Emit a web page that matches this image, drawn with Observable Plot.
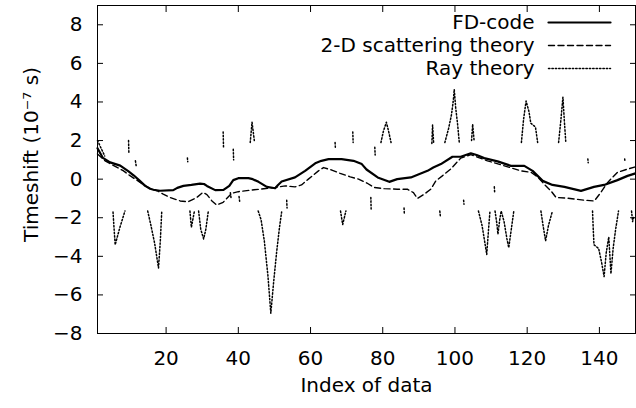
<!DOCTYPE html>
<html><head><meta charset="utf-8">
<script src="https://cdn.jsdelivr.net/npm/d3@7"></script>
<script src="https://cdn.jsdelivr.net/npm/@observablehq/plot@0.6"></script>
<style>
html,body{margin:0;padding:0;background:#fff;}
#chart svg{display:block;}
</style></head><body><div id="chart"></div>
<script>
// ---- data ----
const seriesNames = ["FD-code", "2-D scattering theory", "Ray theory"];
const xLabel = "Index of data";
const yLabel = "Timeshift (10\u207B\u2077 s)";
const xTicks = [20, 40, 60, 80, 100, 120, 140];
const yTicks = [-8, -6, -4, -2, 0, 2, 4, 6, 8];

const fdX = [1, 2.5, 4.5, 7.3, 9.6, 11, 12.5, 14.2, 15.6, 16.5, 18.3, 22, 23.1, 24.8, 27, 29.4, 30.5, 31.3, 33.6, 35.9, 37.5, 38.6, 40, 42.8, 44, 45.6, 47.9, 50.2, 51, 52, 55.7, 58.5, 61.3, 63, 65, 68.6, 71.9, 74.2, 75.5, 78.6, 81.8, 84, 87.8, 90, 92.4, 94, 96.1, 99.3, 101.6, 104.4, 106, 108.1, 111.8, 115.5, 119.2, 121.5, 124.3, 127, 130.3, 134.9, 138.5, 141.3, 145, 147.8, 150];
const fdY = [1.6, 1.1, 0.87, 0.7, 0.4, 0.2, -0.05, -0.35, -0.5, -0.55, -0.6, -0.57, -0.45, -0.35, -0.3, -0.23, -0.25, -0.35, -0.57, -0.56, -0.35, -0.05, 0.05, 0.05, 0.0, -0.14, -0.4, -0.47, -0.3, -0.12, 0.09, 0.43, 0.82, 0.95, 1.04, 1.04, 0.95, 0.78, 0.5, 0.09, -0.14, 0.0, 0.09, 0.25, 0.43, 0.6, 0.78, 1.16, 1.16, 1.34, 1.25, 1.09, 0.92, 0.69, 0.69, 0.43, -0.09, -0.3, -0.4, -0.61, -0.4, -0.3, -0.05, 0.17, 0.3];

const scX = [1, 3.1, 5.5, 8.1, 10, 12.8, 15.6, 17.5, 19.2, 21.1, 23.9, 26.1, 28.5, 30.2, 31.3, 32.7, 34, 35.8, 38.2, 40, 43.3, 46, 48.3, 50.2, 53, 55.7, 57.5, 59.4, 62.2, 63.6, 65.9, 68.2, 71, 73.3, 75.6, 77.6, 80.4, 84, 86.8, 88.5, 89.6, 91.5, 93.3, 94.7, 96.5, 98.8, 101.6, 104.4, 109, 113.7, 118.3, 121.1, 123, 124.7, 126.6, 128, 131.2, 135.8, 138.6, 140.4, 142.3, 145, 147.8, 150];
const scY = [1.3, 0.95, 0.7, 0.44, 0.18, -0.17, -0.5, -0.6, -0.78, -0.95, -1.13, -1.17, -0.95, -0.69, -0.8, -1.13, -1.34, -1.2, -0.73, -0.65, -0.57, -0.52, -0.47, -0.43, -0.35, -0.4, -0.3, 0.0, 0.43, 0.6, 0.47, 0.3, 0.12, 0.0, -0.2, -0.43, -0.49, -0.52, -0.52, -0.7, -1.0, -0.78, -0.52, -0.09, 0.17, 0.52, 1.09, 1.27, 0.95, 0.69, 0.43, 0.35, 0.1, -0.26, -0.61, -0.95, -0.99, -1.09, -1.13, -0.69, -0.17, 0.35, 0.52, 0.64];

// ray theory: visible pieces, null = gap
const rayX = [
  1, 2, 3, null,
  5.3, 5.6, 5.9, 7.2, 8.6, null,
  9.6, 9.7, null,
  11.5, 11.7, null,
  14.9, 15.8, 16.8, 17.9, 18.4, 18.8, null,
  25.9, 26.0, null,
  26.6, 27.0, 27.8, null,
  29.0, 29.6, 30.4, 31.0, 31.7, null,
  35.8, 35.9, null,
  37.8, 38.0, null,
  38.6, 38.7, null,
  40.2, 40.4, null,
  43.3, 43.8, 44.5, null,
  45.5, 46.3, 47.2, 48.2, 49.0, 49.8, 50.6, 51.4, 52.0, null,
  53.4, 53.5, null,
  66.8, 66.9, null,
  68.3, 68.9, 69.8, null,
  71.7, 71.8, null,
  76.7, 76.8, null,
  77.8, 77.9, null,
  79.5, 80.2, 81.0, 81.6, 82.3, null,
  85.9, 86.0, null,
  93.6, 93.8, 94.1, null,
  95.8, 96.0, null,
  97.2, 98.2, 99.0, 99.5, 99.8, 100.2, 100.7, 101.2, null,
  102.4, 102.5, null,
  104.6, 104.9, 105.3, null,
  106.5, 107.5, 108.2, 108.8, 109.3, 109.7, null,
  110.9, 111.0, null,
  111.1, 111.6, 111.9, 112.4, 112.8, 113.6, 114.4, 114.9, 115.6, 116.3, null,
  118.4, 119.0, 119.7, 120.5, 121.0, 122.3, 122.9, null,
  123.8, 124.4, 125.1, 125.9, 127.0, null,
  128.7, 129.3, 129.9, 130.3, 130.7, null,
  136.8, 136.9, null,
  138.1, 138.3, 138.5, 139.8, 140.6, 141.3, 141.9, 142.6, 143.2, 143.8, 144.5, 145.3, null,
  147.0, 147.1, null,
  148.9, 149.2, 149.6
];
const rayY = [
  2.0, 1.6, 1.2, null,
  -1.7, -2.6, -3.4, -2.5, -1.65, null,
  2.0, 1.3, null,
  0.95, 0.7, null,
  -1.65, -2.4, -3.3, -4.6, -3.2, -1.65, null,
  1.1, 0.9, null,
  -1.65, -2.5, -1.7, null,
  -1.65, -2.6, -3.1, -2.6, -1.65, null,
  2.45, 1.65, null,
  -0.7, -1.0, null,
  1.55, 1.0, null,
  -0.9, -1.2, null,
  1.9, 2.95, 1.9, null,
  -1.65, -2.1, -3.2, -5.0, -6.95, -5.3, -3.8, -2.5, -1.7, null,
  -1.1, -1.5, null,
  1.9, 1.55, null,
  -1.65, -2.35, -1.65, null,
  2.45, 1.9, null,
  -0.95, -1.65, null,
  1.65, 1.25, null,
  1.9, 2.5, 2.95, 2.5, 1.9, null,
  -1.5, -1.85, null,
  1.85, 2.8, 1.85, null,
  -1.65, -2.0, null,
  1.9, 2.6, 3.3, 4.0, 4.65, 3.7, 2.9, 1.9, null,
  -1.1, -1.3, null,
  2.0, 2.85, 2.0, null,
  -1.65, -2.4, -3.2, -3.9, -2.6, -1.65, null,
  -0.4, -0.7, null,
  -1.65, -2.3, -2.85, -2.1, -1.65, -2.2, -3.1, -3.55, -2.6, -1.65, null,
  1.9, 3.1, 4.05, 3.5, 2.9, 2.7, 1.9, null,
  -1.65, -2.4, -3.2, -2.4, -1.65, null,
  1.9, 3.0, 4.25, 3.0, 1.9, null,
  1.05, 0.85, null,
  -1.65, -2.6, -3.4, -3.6, -4.3, -5.05, -3.8, -3.0, -4.9, -3.6, -2.6, -1.65, null,
  1.05, 0.9, null,
  -1.65, -2.2, -1.9
];

// ---- build ----
const toRows = (xs, ys) => xs.map((x, i) => ({x: x ?? NaN, y: ys[i] ?? NaN}));
const fd = toRows(fdX, fdY);
const sc = toRows(scX, scY);
const ray = toRows(rayX, rayY);

const styles = [
  {stroke: "black", strokeWidth: 2.2},
  {stroke: "black", strokeWidth: 1.4, strokeDasharray: "6,3.5"},
  {stroke: "black", strokeWidth: 1.5, strokeDasharray: "1.4,2"}
];
const hline = {draw(context, l) { context.moveTo(0, 0); context.lineTo(0, -l); }};

const legendMarks = [];
seriesNames.forEach((name, i) => {
  legendMarks.push(Plot.text([name], {frameAnchor: "top-right", dx: -101, dy: 17 + i * 23, textAnchor: "end", lineAnchor: "middle", fontSize: 20, fill: "black"}));
  legendMarks.push(Plot.vector([0], {frameAnchor: "top-right", dx: -87, dy: 17 + i * 23, rotate: 90, length: 62, anchor: "start", shape: hline, ...styles[i]}));
});

const chart = Plot.plot({
  width: 636,
  height: 408,
  marginLeft: 97,
  marginRight: 1,
  marginTop: 5,
  marginBottom: 75,
  style: {fontFamily: "DejaVu Sans", fontSize: "20px", background: "white", color: "black"},
  x: {domain: [1, 150]},
  y: {domain: [-8, 9]},
  marks: [
    Plot.axisX(xTicks, {anchor: "bottom", tickSize: -6, tickPadding: 23, label: null, fontSize: 20}),
    Plot.axisX(xTicks, {anchor: "top", tickSize: -6, tickFormat: () => "", label: null}),
    Plot.axisY(yTicks, {anchor: "left", tickSize: -6, tickPadding: 21, label: null, fontSize: 20}),
    Plot.axisY(yTicks, {anchor: "right", tickSize: -6, tickFormat: () => "", label: null}),
    Plot.line(ray, {x: "x", y: "y", ...styles[2]}),
    Plot.line(sc, {x: "x", y: "y", ...styles[1]}),
    Plot.line(fd, {x: "x", y: "y", ...styles[0]}),
    Plot.frame({stroke: "black", strokeWidth: 1}),
    Plot.text([xLabel], {frameAnchor: "bottom", dy: 52, textAnchor: "middle", lineAnchor: "middle", fontSize: 20, fill: "black"}),
    Plot.text([yLabel], {frameAnchor: "left", dx: -66, dy: -15, rotate: -90, textAnchor: "middle", lineAnchor: "middle", fontSize: 20, fill: "black"}),
    ...legendMarks
  ]
});
document.getElementById("chart").appendChild(chart);
</script>
</body></html>
